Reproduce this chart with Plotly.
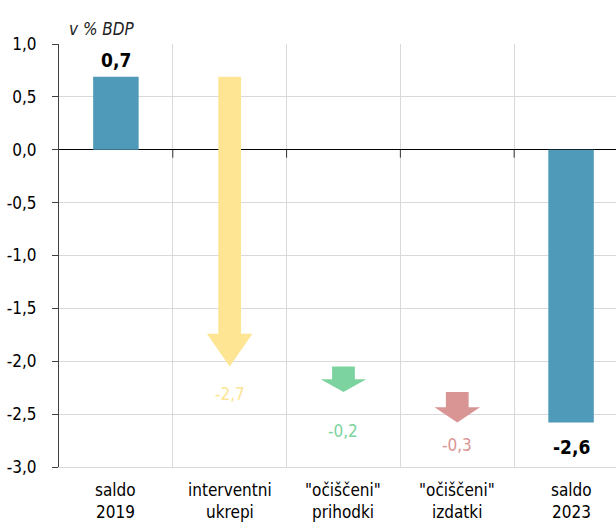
import plotly.graph_objects as go

# Bridge of the general government balance, 2019 -> 2023 (in % of GDP)
categories = [("saldo", "2019"), ("interventni", "ukrepi"), ("\"očiščeni\"", "prihodki"),
              ("\"očiščeni\"", "izdatki"), ("saldo", "2023")]
saldo_2019 = 0.69
changes = [-2.74, -0.24, -0.29]          # interventni ukrepi, prihodki, izdatki
saldo_2023 = -2.58
y_ticks = [1.0, 0.5, 0.0, -0.5, -1.0, -1.5, -2.0, -2.5, -3.0]

BLUE = "#4f9ab8"
ARROW_COLORS = ["#fde593", "#7dd3a0", "#d99594"]
FONT = "DejaVu Sans Condensed, Liberation Sans Narrow, Liberation Sans, sans-serif"

def fmt(v):
    return f"{v:.1f}".replace(".", ",")

fig = go.Figure()

# end bars
fig.add_trace(go.Bar(x=[0, 4], y=[saldo_2019, saldo_2023], width=0.4,
                     marker=dict(color=BLUE, line=dict(width=0)),
                     hoverinfo="skip"))

# arrows for the individual contributions
start = saldo_2019
for i, (d, col) in enumerate(zip(changes, ARROW_COLORS)):
    xc = i + 1
    end = start + d
    head = min(0.5 * abs(d), 0.31)
    neck = end + head
    xs = [xc - 0.1, xc + 0.1, xc + 0.1, xc + 0.2, xc, xc - 0.2, xc - 0.1, xc - 0.1]
    ys = [start, start, neck, neck, end, neck, neck, start]
    fig.add_trace(go.Scatter(x=xs, y=ys, fill="toself", fillcolor=col, mode="lines",
                             line=dict(width=0, color=col), hoverinfo="skip"))
    start = end

# value labels
label_shift = [-27, -39, -22]
start = saldo_2019
for i, (d, col) in enumerate(zip(changes, ARROW_COLORS)):
    end = start + d
    fig.add_annotation(x=i + 1, y=end, text=fmt(d), showarrow=False,
                       yshift=label_shift[i], font=dict(family=FONT, size=17, color=col))
    start = end
fig.add_annotation(x=0, y=saldo_2019, text="<b>" + fmt(saldo_2019) + "</b>", showarrow=False,
                   yshift=17, font=dict(family=FONT, size=19, color="black"))
fig.add_annotation(x=4, y=saldo_2023, text="<b>" + fmt(saldo_2023) + "</b>", showarrow=False,
                   yshift=-24, font=dict(family=FONT, size=19, color="black"))

# category names, two lines each
for i, (l1, l2) in enumerate(categories):
    for text, shift in ((l1, -23), (l2, -45)):
        fig.add_annotation(x=i, xref="x", yref="paper", y=0, yshift=shift, text=text,
                           showarrow=False, yanchor="middle",
                           font=dict(family=FONT, size=17, color="black"))

# unit title
fig.add_annotation(xref="paper", yref="paper", x=0.015, y=1, yshift=27, xanchor="left",
                   text="<i>v % BDP</i>", showarrow=False,
                   font=dict(family=FONT, size=17, color="#222222"))

# small ticks hanging below the zero line at category boundaries
for b in [0.5, 1.5, 2.5, 3.5]:
    fig.add_shape(type="line", xref="x", yref="y", x0=b, x1=b, y0=0, y1=-0.075,
                  line=dict(color="#333333", width=1))

fig.update_layout(
    width=616, height=524,
    margin=dict(l=59, r=0, t=44, b=57),
    plot_bgcolor="white", paper_bgcolor="white",
    showlegend=False, separators=", ",
    font=dict(family=FONT, size=17, color="black"),
)
fig.update_xaxes(
    range=[-0.5, 4.395], showticklabels=False,
    showgrid=False, zeroline=False, ticks="", showline=True, linecolor="#d9d9d9",
    minor=dict(tick0=0.5, dtick=1, showgrid=True, gridcolor="#d9d9d9", gridwidth=1),
)
fig.update_yaxes(
    range=[-3.0, 1.0], tickvals=y_ticks, ticktext=[fmt(v) for v in y_ticks],
    showgrid=True, gridcolor="#d9d9d9", gridwidth=1,
    zeroline=True, zerolinecolor="black", zerolinewidth=1,
    showline=True, linecolor="#404040", linewidth=1,
    ticks="outside", ticklen=6, tickcolor="#404040", ticklabelstandoff=12,
    tickfont=dict(family=FONT, size=17, color="black"),
)

fig.write_html("out.html")
